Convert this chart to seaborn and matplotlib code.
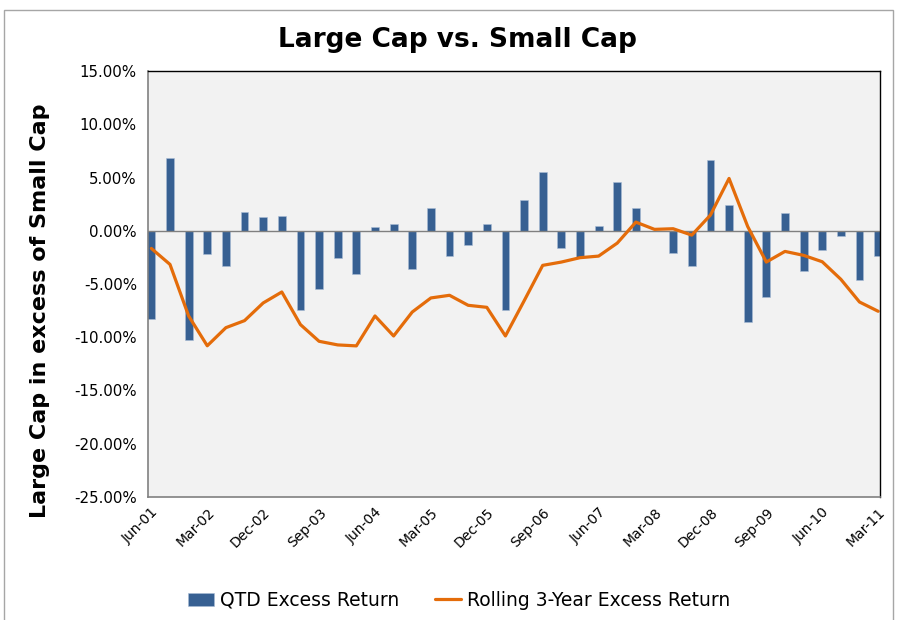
import numpy as np
import pandas as pd
import seaborn as sns
import matplotlib.pyplot as plt
from matplotlib.patches import Rectangle
from matplotlib.ticker import FuncFormatter

sns.set_style("white")
plt.rcParams["font.family"] = ["DejaVu Sans"]
plt.rcParams["text.color"] = "black"
plt.rcParams["xtick.color"] = "black"
plt.rcParams["ytick.color"] = "black"

# quarterly observations, Jun-01 .. Mar-11
quarters = pd.date_range("2001-06-30", periods=40, freq="QE").strftime("%b-%y").tolist()

qtd_excess = [-8.25, 6.80, -10.30, -2.16, -3.31, 1.75, 1.28, 1.38, -7.44, -5.47,
              -2.56, -4.06, 0.34, 0.63, -3.56, 2.13, -2.34, -1.31, 0.63, -7.41,
              2.88, 5.50, -1.59, -2.44, 0.44, 4.56, 2.13, 0.00, -2.06, -3.31,
              6.63, 2.41, -8.56, -6.19, 1.66, -3.75, -1.81, -0.50, -4.59, -2.34]
rolling_3yr = [-1.66, -3.16, -8.00, -10.80, -9.10, -8.44, -6.78, -5.75, -8.81, -10.38,
               -10.72, -10.81, -8.00, -9.88, -7.63, -6.31, -6.06, -7.00, -7.19, -9.88,
               -6.59, -3.25, -2.94, -2.53, -2.38, -1.16, 0.81, 0.13, 0.19, -0.41,
               1.47, 4.91, 0.40, -2.94, -1.94, -2.31, -2.91, -4.56, -6.69, -7.56]

tick_labels = ["Jun-01", "Mar-02", "Dec-02", "Sep-03", "Jun-04", "Mar-05", "Dec-05",
               "Sep-06", "Jun-07", "Mar-08", "Dec-08", "Sep-09", "Jun-10", "Mar-11"]

df = pd.DataFrame({"quarter": quarters, "qtd": qtd_excess, "rolling": rolling_3yr})
df["pos"] = np.arange(len(df))

bar_color = "#376092"
line_color = "#E46C0A"

fig = plt.figure(figsize=(8.98, 6.2), dpi=100)
ax = fig.add_axes([148 / 898, 1 - 497 / 620, (880 - 148) / 898, (497 - 71) / 620])
ax.set_facecolor("#F2F2F2")

sns.barplot(data=df, x="pos", y="qtd", native_scale=True, color=bar_color,
            width=0.42, saturation=1, edgecolor="#A9BCD6", linewidth=0.4,
            label="QTD Excess Return", ax=ax)
sns.lineplot(data=df, x="pos", y="rolling", color=line_color, linewidth=2.3,
             label="Rolling 3-Year Excess Return", ax=ax)

ax.axhline(0, color="#808080", linewidth=1, zorder=1)
ax.set_xlim(-0.18, 39.1)
ax.set_ylim(-25, 15)
ax.set_yticks(np.arange(-25, 16, 5))
ax.yaxis.set_major_formatter(FuncFormatter(lambda v, _: f"{v:.2f}%"))
ax.set_xticks(df["pos"][::3])
ax.set_xticklabels(tick_labels, rotation=45, ha="right", rotation_mode="anchor")
ax.tick_params(axis="y", direction="out", length=5, color="#808080", labelsize=10.8, pad=3)
ax.tick_params(axis="x", length=0, labelsize=10, pad=6)
ax.set_xlabel("")
ax.set_ylabel("")

for side in ["top", "right"]:
    ax.spines[side].set_color("#000000")
    ax.spines[side].set_linewidth(1)
for side in ["left", "bottom"]:
    ax.spines[side].set_color("#808080")
    ax.spines[side].set_linewidth(1.2)

fig.text(0.509, 0.935, "Large Cap vs. Small Cap", ha="center", va="center",
         fontsize=19, fontweight="bold")
fig.text(0.0445, 0.498, "Large Cap in excess of Small Cap", ha="center", va="center",
         rotation=90, fontsize=16, fontweight="bold")

handles, labels = ax.get_legend_handles_labels()
order = [labels.index("QTD Excess Return"), labels.index("Rolling 3-Year Excess Return")]
ax.legend([handles[i] for i in order], [labels[i] for i in order], loc="center",
          bbox_to_anchor=(0.511, 0.032), bbox_transform=fig.transFigure, ncol=2,
          frameon=False, fontsize=13.5, handlelength=1.4, columnspacing=1.9,
          handletextpad=0.3)

fig.patches.append(Rectangle((4 / 898, -0.01), 889 / 898, 1 - 10 / 620 + 0.01,
                             transform=fig.transFigure, fill=False,
                             edgecolor="#A6A6A6", linewidth=1))

fig.savefig("out.png", dpi=100)
